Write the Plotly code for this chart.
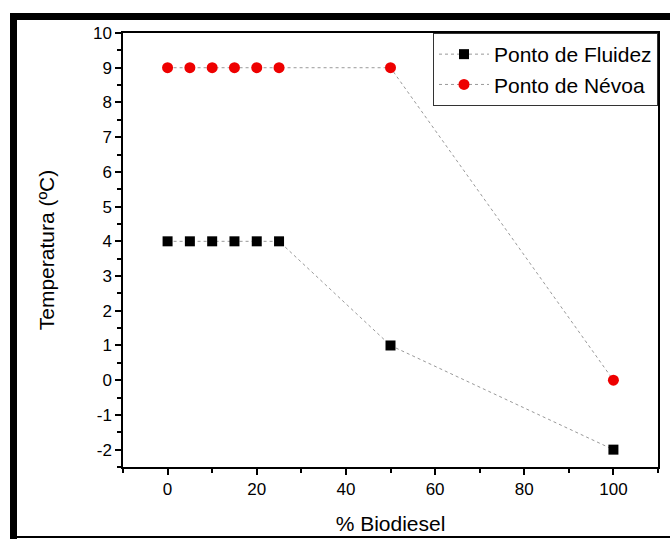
import plotly.graph_objects as go

biodiesel = [0, 5, 10, 15, 20, 25, 50, 100]
fluidez = [4, 4, 4, 4, 4, 4, 1, -2]
nevoa = [9, 9, 9, 9, 9, 9, 9, 0]
x_ticks = [0, 20, 40, 60, 80, 100]
y_ticks = list(range(-2, 11))

FONT = "Liberation Sans, Arial, sans-serif"

fig = go.Figure()
fig.add_trace(go.Scatter(
    x=biodiesel, y=fluidez, mode="lines+markers", name="Ponto de Fluidez",
    line=dict(color="#999999", width=1, dash="dot"),
    marker=dict(symbol="square", size=10, color="black"),
))
fig.add_trace(go.Scatter(
    x=biodiesel, y=nevoa, mode="lines+markers", name="Ponto de Névoa",
    line=dict(color="#999999", width=1, dash="dot"),
    marker=dict(symbol="circle", size=11, color="#ee0000"),
))

L, R, T, B = 123, 12, 33, 72
W, H = 670, 539
pw, ph = W - L - R, H - T - B

def px(x):
    return (x - L) / pw

def py(y):
    return (H - B - y) / ph

fig.update_layout(
    width=W, height=H,
    margin=dict(l=L, r=R, t=T, b=B),
    paper_bgcolor="white", plot_bgcolor="white",
    font=dict(family=FONT, color="black", size=17),
    showlegend=True,
    legend=dict(
        x=1, y=1, xanchor="right", yanchor="top",
        bordercolor="#333333", borderwidth=1, bgcolor="white",
        font=dict(size=21, family=FONT), tracegroupgap=0, itemwidth=50,
    ),
    xaxis=dict(
        range=[-10, 110], tickvals=x_ticks, ticktext=[str(v) for v in x_ticks],
        showgrid=False, zeroline=False, automargin=False,
        showline=True, linecolor="black", linewidth=1.5, mirror=True,
        ticks="outside", ticklen=6, tickwidth=1.5, tickcolor="black",
        minor=dict(tickvals=[-10, 10, 30, 50, 70, 90, 110], ticks="outside", ticklen=4, tickwidth=1.5, tickcolor="black"),
        tickfont=dict(size=17),
        title=dict(text="% Biodiesel", font=dict(size=21), standoff=18),
    ),
    yaxis=dict(
        range=[-2.5, 10], tickvals=y_ticks, ticktext=[str(v) for v in y_ticks],
        showgrid=False, zeroline=False, automargin=False,
        showline=True, linecolor="black", linewidth=1.5, mirror=True,
        ticks="outside", ticklen=6, tickwidth=1.5, tickcolor="black",
        minor=dict(dtick=0.5, tick0=0, ticks="outside", ticklen=4, tickwidth=1.5, tickcolor="black"),
        tickfont=dict(size=17),
        title=dict(text="Temperatura (ºC)", font=dict(size=21), standoff=33),
    ),
    shapes=[
        dict(type="rect", xref="paper", yref="paper", x0=px(10), x1=px(17), y0=py(539), y1=py(13),
             fillcolor="black", line=dict(width=0), layer="above"),
        dict(type="rect", xref="paper", yref="paper", x0=px(10), x1=px(670), y0=py(20), y1=py(13),
             fillcolor="black", line=dict(width=0), layer="above"),
        dict(type="rect", xref="paper", yref="paper", x0=px(10), x1=px(670), y0=py(538), y1=py(536),
             fillcolor="black", line=dict(width=0), layer="above"),
    ],
)

fig.write_html("out.html")
